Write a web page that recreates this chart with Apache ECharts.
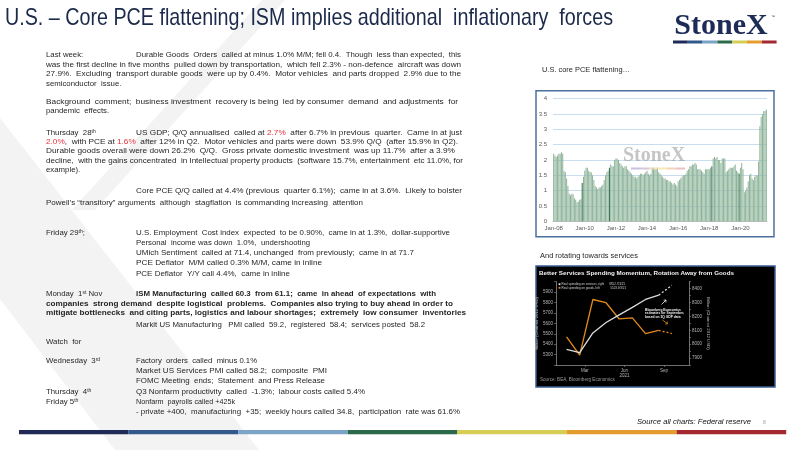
<!DOCTYPE html>
<html><head><meta charset="utf-8">
<script src="https://cdn.jsdelivr.net/npm/echarts/dist/echarts.min.js"></script>
<style>html,body{margin:0;padding:0;background:#fff}#c{width:800px;height:450px}</style>
</head><body><div id="c"></div>
<script>
// ---------- DATA ----------
// U.S. core PCE (y/y %), monthly from Jan-2008
const pce2008 = [2.2, 2.15, 2.1, 2.15, 2.2, 2.2, 2.25, 2.2, 1.65, 1.6, 1.4, 1.15];
const pce2009 = [0.9, 0.85, 0.9, 0.88, 0.75, 0.7, 0.62, 0.65, 0.7, 0.72, 1.25, 1.45];
const pce2010 = [1.65, 1.75, 1.75, 1.65, 1.6, 1.6, 1.5, 1.35, 1.15, 1.1, 1.05, 1.1];
const pce2011 = [1.1, 1.15, 1.2, 1.35, 1.5, 1.6, 1.65, 1.75, 1.85, 1.8, 1.8, 2.0];
const pce2012 = [2.05, 2.05, 2.0, 1.9, 1.85, 1.8, 1.75, 1.8, 1.8, 1.7, 1.65, 1.6];
const pce2013 = [1.55, 1.5, 1.45, 1.45, 1.4, 1.45, 1.5, 1.55, 1.55, 1.5, 1.55, 1.6];
const pce2014 = [1.65, 1.55, 1.5, 1.55, 1.75, 1.75, 1.7, 1.7, 1.75, 1.6, 1.55, 1.5];
const pce2015 = [1.45, 1.4, 1.4, 1.35, 1.35, 1.3, 1.3, 1.25, 1.2, 1.25, 1.2, 1.15];
const pce2016 = [1.3, 1.35, 1.4, 1.45, 1.5, 1.5, 1.55, 1.65, 1.7, 1.8, 1.8, 1.85];
const pce2017 = [1.85, 1.9, 1.85, 1.7, 1.7, 1.7, 1.65, 1.6, 1.55, 1.7, 1.7, 1.7];
const pce2018 = [1.7, 1.75, 1.8, 2.05, 2.1, 2.05, 2.1, 2.0, 2.0, 1.9, 2.05, 2.05];
const pce2019 = [2.05, 1.6, 1.65, 1.7, 1.75, 1.75, 1.75, 1.8, 1.85, 1.65, 1.6, 1.55];
const pce2020 = [1.75, 1.9, 1.7, 0.95, 1.0, 1.1, 1.3, 1.5, 1.55, 1.4, 1.35, 1.45];
const pce2021 = [1.5, 1.5, 1.95, 3.1, 3.4, 3.5, 3.6, 3.6, 3.65];
const pceYears = [2008,2009,2010,2011,2012,2013,2014,2015,2016,2017,2018,2019,2020,2021];
const monthNames = ['Jan','Feb','Mar','Apr','May','Jun','Jul','Aug','Sep','Oct','Nov','Dec'];
const pceDarkBars = [22, 43, 122, 143];

// Real spending 2021 (billion chained 2012 USD), Jan..Sep (Sep = estimate)
const spendMonthIndex = [1, 2, 3, 4, 5, 6, 7, 8, 9];
const goodsSpending    = [5471, 5294, 5829, 5798, 5642, 5652, 5502, 5533, 5502];
const servicesSpending = [7963, 7939, 8081, 8156, 8211, 8265, 8322, 8353, 8424];
const spendTickValues = [2.4, 5.4, 8.4];
const spendTickLabels = ['Mar', 'Jun\n2021', 'Sep'];

// ---------- BUILD ----------
const pceAll = [pce2008,pce2009,pce2010,pce2011,pce2012,pce2013,pce2014,pce2015,pce2016,pce2017,pce2018,pce2019,pce2020,pce2021];
const pceCategories = [], pceValues = [];
pceAll.forEach((arr, yi) => arr.forEach((v, mi) => {
  pceCategories.push(monthNames[mi] + '-' + String(pceYears[yi]).slice(2));
  pceValues.push(v);
}));
const nSolid = 8;
const goodsSolid = spendMonthIndex.slice(0, nSolid).map((m, i) => [m, goodsSpending[i]]);
const goodsEst = spendMonthIndex.slice(nSolid - 1).map((m, i) => [m, goodsSpending[i + nSolid - 1]]);
const servSolid = spendMonthIndex.slice(0, nSolid).map((m, i) => [m, servicesSpending[i]]);
const servEst = spendMonthIndex.slice(nSolid - 1).map((m, i) => [m, servicesSpending[i + nSolid - 1]]);

const FONT = "'Liberation Sans', Arial, Helvetica, sans-serif";
const SERIF = "'Liberation Serif', 'Times New Roman', 'DejaVu Serif', serif";
const TXT = '#262626';
const BS = 7.8;

function font(size, weight, style, fam) {
  return (style || 'normal') + ' ' + (weight || 'normal') + ' ' + size + 'px ' + (fam || FONT);
}
const mctx = document.createElement('canvas').getContext('2d');
function mw(s, size, weight, fstyle, fam) {
  mctx.font = font(size, weight, fstyle, fam);
  return mctx.measureText(s).width;
}
function measure(text, size, weight, fstyle, fam) {
  const re = /\{(\w)\|([^}]*)\}/g;
  let w = 0, last = 0, m;
  while ((m = re.exec(text))) {
    w += mw(text.slice(last, m.index), size, weight, fstyle, fam);
    w += m[1] === 's' ? mw(m[2], 5, 'normal', null, fam) : mw(m[2], size, weight, fstyle, fam);
    last = re.lastIndex;
  }
  w += mw(text.slice(last), size, weight, fstyle, fam);
  return w;
}
function txt(x, y, text, o) {
  o = o || {};
  const size = o.size || BS;
  const w = o.weight || 'normal';
  let sx = 1;
  if (o.end) sx = (o.end - x) / measure(text, size, w, o.fstyle, o.family);
  const base = {
    x: 0, y: 0, text: text,
    font: font(size, w, o.fstyle, o.family),
    fill: o.fill || TXT,
    textAlign: o.align || 'left', align: o.align || 'left',
    textVerticalAlign: 'middle', verticalAlign: 'middle',
    rich: {
      r: {font: font(size, w, o.fstyle, o.family), fill: '#e8313b', textFill: '#e8313b'},
      s: {font: font(5, 'normal', null, o.family), fill: TXT, textFill: TXT, verticalAlign: 'top', textVerticalAlign: 'top'}
    }
  };
  return {type: 'text', z: o.z || 60, silent: true, x: x, y: y, scaleX: sx, scaleY: 1, style: base};
}
function rect(x, y, w, h, fill, o) {
  o = o || {};
  return {type: 'rect', z: o.z != null ? o.z : 40, silent: true, shape: {x: x, y: y, width: w, height: h},
    style: {fill: fill, stroke: o.stroke || null, lineWidth: o.lw || 0, opacity: o.op != null ? o.op : 1}};
}

const brand = ['#1f2a56', '#33598c', '#7aa3c6', '#2b6a4a', '#d6cd55', '#e59c2f', '#a4282f'];

const L = 46, C = 136;
// [x, y, text, right end of justified line or null]
const bodyLines = [
  [L, 55, 'Last week:', null],
  [C, 55, 'Durable Goods  Orders  called at minus 1.0% M/M; fell 0.4.  Though  less than expected,  this', 461],
  [L, 65, 'was the first decline in five months  pulled down by transportation,  which fell 2.3% - non-defence  aircraft was down', 461],
  [L, 74.3, '27.9%.  Excluding  transport durable goods  were up by 0.4%.  Motor vehicles  and parts dropped  2.9% due to the', 461],
  [L, 83.5, 'semiconductor  issue.', null],
  [L, 101.5, 'Background  comment;  business investment  recovery is being  led by consumer  demand  and adjustments  for', 458],
  [L, 110.8, 'pandemic  effects.', null],
  [L, 133, 'Thursday  28{s|th}', null],
  [C, 133, 'US GDP; Q/Q annualised  called at {r|2.7%}  after 6.7% in previous  quarter.  Came in at just', 462],
  [L, 142, '{r|2.0%},  with PCE at {r|1.6%}  after 12% in Q2.  Motor vehicles and parts were down  53.9% Q/Q  (after 15.9% in Q2).', 458],
  [L, 151.3, 'Durable goods overall were down 26.2%  Q/Q.  Gross private domestic investment  was up 11.7%  after a 3.9%', 455],
  [L, 160.7, 'decline,  with the gains concentrated  in Intellectual property products  (software 15.7%, entertainment  etc 11.0%, for', 463],
  [L, 169.7, 'example).', null],
  [C, 190.7, 'Core PCE Q/Q called at 4.4% (previous  quarter 6.1%);  came in at 3.6%.  Likely to bolster', 462],
  [L, 203.3, 'Powell\u2019s \u201ctransitory\u201d arguments  although  stagflation  is commanding increasing  attention', 363],
  [L, 233.3, 'Friday 29{s|th};', null],
  [C, 233.3, 'U.S. Employment  Cost index  expected  to be 0.90%,  came in at 1.3%,  dollar-supportive', 450],
  [C, 243.3, 'Personal  income was down  1.0%,  undershooting', 310],
  [C, 253.3, 'UMich Sentiment  called at 71.4, unchanged  from previously;  came in at 71.7', 414],
  [C, 263.3, 'PCE Deflator  M/M called 0.3% M/M, came in inline', 322],
  [C, 274, 'PCE Deflator  Y/Y call 4.4%,  came in inline', 290],
  [L, 294, 'Monday  1{s|st} Nov', null],
  [C, 325, 'Markit US Manufacturing   PMI called  59.2,  registered  58.4;  services posted  58.2', 425],
  [L, 341.7, 'Watch  for', null],
  [L, 361, 'Wednesday  3{s|rd}', null],
  [C, 361, 'Factory  orders  called  minus 0.1%', 257],
  [C, 370.7, 'Market US Services PMI called 58.2;  composite  PMI', 327],
  [C, 380.7, 'FOMC Meeting  ends;  Statement  and Press Release', 325],
  [L, 391.7, 'Thursday  4{s|th}', null],
  [C, 391.7, 'Q3 Nonfarm productivity  called  -1.3%;  labour costs called 5.4%', 365],
  [L, 401.7, 'Friday 5{s|th}', null],
  [C, 401.7, 'Nonfarm  payrolls called +425k', 235],
  [C, 411.7, '- private +400,  manufacturing  +35;  weekly hours called 34.8,  participation  rate was 61.6%', 460]
];
const boldLines = [
  [C, 294, 'ISM Manufacturing  called 60.3  from 61.1;  came  in ahead  of expectations  with', 436],
  [L, 304, 'companies  strong demand  despite logistical  problems.  Companies also trying to buy ahead in order to', 453],
  [L, 313.3, 'mitigate bottlenecks  and citing parts, logistics and labour shortages;  extremely  low consumer  inventories', 466]
];

const graphics = [];
// background watermark bands
graphics.push({type: 'polygon', z: -20, silent: true, shape: {points: [[262,0],[285,0],[95,210],[72,210]]}, style: {fill: '#f3f3f3'}});
graphics.push({type: 'polygon', z: -20, silent: true, shape: {points: [[0,118],[259,450],[115,450],[0,299]]}, style: {fill: '#f3f3f3'}});
// title
graphics.push(txt(5, 18, 'U.S. \u2013 Core PCE flattening; ISM implies additional  inflationary  forces', {size: 24, fill: '#1b2a4a', end: 613}));
// logo
graphics.push(txt(721, 26, 'StoneX', {size: 30, weight: 'bold', family: SERIF, fill: '#1d2b57', align: 'center'}));
graphics.push(txt(771, 17, '\u2122', {size: 4, fill: '#1d2b57'}));
brand.forEach((c, i) => graphics.push(rect(673 + i * 14.8, 40.5, 14.8, 3, c)));
// body text
bodyLines.forEach(l => graphics.push(txt(l[0], l[1], l[2], {end: l[3]})));
boldLines.forEach(l => graphics.push(txt(l[0], l[1], l[2], {weight: 'bold', size: 7.6, end: l[3]})));
// chart 1 frame + captions
graphics.push(txt(542, 70, 'U.S. core PCE flattening\u2026', {size: 7.6, end: 630}));
graphics.push(rect(536, 90.7, 238, 146, '#ffffff', {stroke: '#4d6fa0', lw: 1.5, z: -5}));
graphics.push(txt(654, 156, 'StoneX', {size: 20, weight: 'bold', family: SERIF, fill: 'rgba(150,150,150,0.55)', align: 'center', z: 70}));
['#b9b4d6', '#c9b9d6', '#f1d7b0', '#f3e3a6', '#f1c9a8', '#e7b2b6'].forEach((c, i) => graphics.push(rect(631 + i * 9, 167.5, 9, 2, c, {z: 70, op: 0.8})));
// chart 2
graphics.push(txt(540, 256, 'And rotating towards services', {size: 7.8, end: 638}));
graphics.push(rect(536, 266, 239, 121, '#000000', {stroke: '#3b5d92', lw: 1.5, z: -5}));
graphics.push(txt(539, 273, 'Better Services Spending Momentum, Rotation Away from Goods', {size: 6.1, weight: 'bold', fill: '#f2f2f2', end: 734}));
graphics.push(rect(558.6, 283.3, 1.8, 1.8, '#e6e6e6', {z: 70}));
graphics.push(rect(558.6, 286.9, 1.8, 1.8, '#e28a1c', {z: 70}));
graphics.push(txt(561.5, 284.2, 'Real spending on services, right      8352.7/3/21', {size: 3, fill: '#d0d0d0'}));
graphics.push(txt(561.5, 287.8, 'Real spending on goods, left             5523.9/3/21', {size: 3, fill: '#d0d0d0'}));
graphics.push(txt(645, 310, 'Bloomberg Economics', {size: 3.3, weight: 'bold', fill: '#f0f0f0'}));
graphics.push(txt(645, 313.5, 'estimates for September,', {size: 3.3, weight: 'bold', fill: '#f0f0f0'}));
graphics.push(txt(645, 317, 'based on 3Q GDP data', {size: 3.3, weight: 'bold', fill: '#f0f0f0'}));
graphics.push({type: 'line', z: 70, silent: true, shape: {x1: 661.5, y1: 304.5, x2: 666, y2: 300}, style: {stroke: '#f0f0f0', lineWidth: 0.8}});
graphics.push({type: 'polyline', z: 70, silent: true, shape: {points: [[663.6,300.2],[666,300],[665.8,302.4]]}, style: {stroke: '#f0f0f0', lineWidth: 0.8, fill: null}});
graphics.push({type: 'line', z: 70, silent: true, shape: {x1: 662.5, y1: 320, x2: 667.5, y2: 323.8}, style: {stroke: '#e28a1c', lineWidth: 0.8}});
graphics.push({type: 'polyline', z: 70, silent: true, shape: {points: [[665.2,324],[667.5,323.8],[667.2,321.5]]}, style: {stroke: '#e28a1c', lineWidth: 0.8, fill: null}});
graphics.push(txt(540, 380, 'Source: BEA, Bloomberg Economics', {size: 4.6, fill: '#9a9a9a'}));
// footer
graphics.push(txt(637, 421.7, 'Source all charts: Federal reserve', {size: 7.6, fstyle: 'italic', fill: '#111111', end: 751}));
graphics.push(txt(763, 423, '8', {size: 5, fill: '#9a9a9a'}));
brand.forEach((c, i) => graphics.push(rect(19 + i * 109.6, 430, 109.6, 4.3, c)));

const axisGrey = '#8c8c8c';
const darkSet = new Set(pceDarkBars);
const option = {
  animation: false,
  backgroundColor: '#ffffff',
  textStyle: {fontFamily: FONT},
  grid: [
    {left: 553, right: 33, top: 98.7, bottom: 228.7},
    {left: 556, right: 111, top: 281.7, bottom: 85}
  ],
  xAxis: [
    {gridIndex: 0, type: 'category', data: pceCategories, boundaryGap: true,
     axisLine: {lineStyle: {color: '#bfbfbf', width: 1}}, axisTick: {show: false},
     axisLabel: {interval: 23, fontSize: 6, color: '#595959', margin: 4, fontFamily: FONT}},
    {gridIndex: 1, type: 'value', min: 0.2, max: 10.3, splitLine: {show: false},
     axisLine: {show: true, onZero: false, lineStyle: {color: axisGrey, width: 0.8}},
     axisTick: {show: true, length: 2, customValues: spendTickValues, lineStyle: {color: axisGrey, width: 0.6}},
     axisLabel: {customValues: spendTickValues, fontSize: 4.5, lineHeight: 5, color: '#b5b5b5', margin: 3,
       formatter: v => { const i = spendTickValues.findIndex(t => Math.abs(t - v) < 1e-6); return i >= 0 ? spendTickLabels[i] : ''; }}}
  ],
  yAxis: [
    {gridIndex: 0, type: 'value', min: 0, max: 4, interval: 0.5,
     axisLine: {show: false}, axisTick: {show: false},
     splitLine: {lineStyle: {color: '#c9ddef', width: 1}},
     axisLabel: {fontSize: 6, color: '#595959', margin: 6, fontFamily: FONT}},
    {gridIndex: 1, type: 'value', position: 'left', min: 5200, max: 6000, interval: 100,
     splitLine: {show: false},
     axisLine: {show: true, lineStyle: {color: axisGrey, width: 0.8}},
     axisTick: {show: true, length: 2, lineStyle: {color: axisGrey, width: 0.6}},
     axisLabel: {fontSize: 4.5, color: '#b5b5b5', margin: 3, formatter: v => (v > 5200 && v < 6000) ? String(v) : ''},
     name: 'Billion (Chained 2012 USD)', nameLocation: 'middle', nameGap: 14, nameRotate: 90,
     nameTextStyle: {fontSize: 4.3, color: '#b5b5b5'}},
    {gridIndex: 1, type: 'value', position: 'right', min: 7850, max: 8450, interval: 50,
     splitLine: {show: false},
     axisLine: {show: true, lineStyle: {color: axisGrey, width: 0.8}},
     axisTick: {show: true, length: 2, lineStyle: {color: axisGrey, width: 0.6}},
     axisLabel: {fontSize: 4.5, color: '#b5b5b5', margin: 3, formatter: v => (v % 100 === 0 && v >= 7900 && v <= 8400) ? String(v) : ''},
     name: 'Billion (Chained 2012 USD)', nameLocation: 'middle', nameGap: 14, nameRotate: -90,
     nameTextStyle: {fontSize: 4.3, color: '#b5b5b5'}}
  ],
  series: [
    {type: 'bar', xAxisIndex: 0, yAxisIndex: 0, data: pceValues, barCategoryGap: '22%', silent: true,
     itemStyle: {color: p => darkSet.has(p.dataIndex) ? '#2e6a46' : '#8db49a'}},
    {type: 'line', xAxisIndex: 1, yAxisIndex: 1, data: goodsSolid, showSymbol: false, silent: true,
     lineStyle: {color: '#e28a1c', width: 1.3}},
    {type: 'line', xAxisIndex: 1, yAxisIndex: 1, data: goodsEst, showSymbol: false, silent: true,
     lineStyle: {color: '#e28a1c', width: 1.3, type: [2, 2]}},
    {type: 'line', xAxisIndex: 1, yAxisIndex: 2, data: servSolid, showSymbol: false, silent: true,
     lineStyle: {color: '#dcdcdc', width: 1.3}},
    {type: 'line', xAxisIndex: 1, yAxisIndex: 2, data: servEst, showSymbol: false, silent: true,
     lineStyle: {color: '#dcdcdc', width: 1.3, type: [2, 2]}}
  ],
  graphic: {elements: graphics}
};
const chart = echarts.init(document.getElementById('c'), null, {renderer: 'canvas'});
chart.setOption(option);
</script>
</body></html>
